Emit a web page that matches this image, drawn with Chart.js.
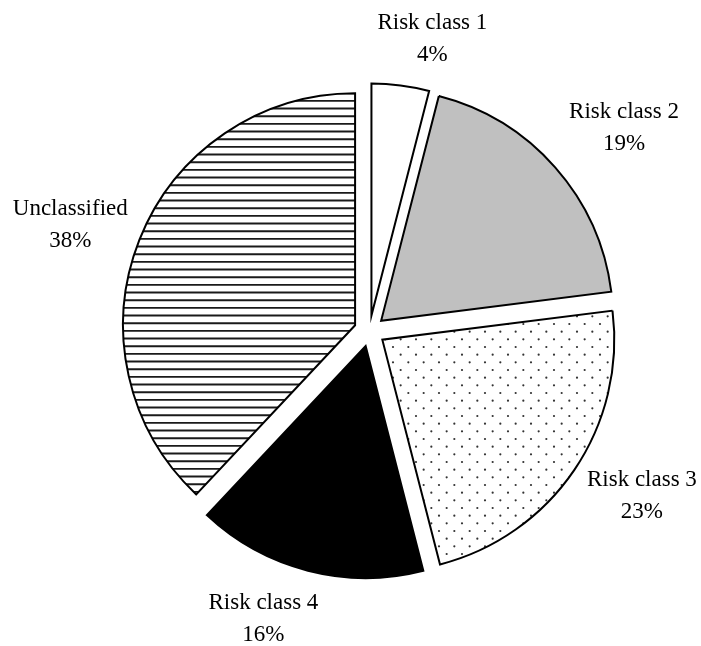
<!DOCTYPE html>
<html>
<head>
<meta charset="utf-8">
<script src="https://cdn.jsdelivr.net/npm/chart.js@4.4.1/dist/chart.umd.min.js"></script>
<style>
  html, body { margin: 0; padding: 0; background: #fff; }
  #wrap { width: 701px; height: 646px; position: relative; }
</style>
</head>
<body>
<div id="wrap"><canvas id="riskPie"></canvas></div>
<script>
// Risk class shares (%)
const categories = ['Risk class 1', 'Risk class 2', 'Risk class 3', 'Risk class 4', 'Unclassified'];
const shares = [4, 19, 23, 16, 38];

// Label nudges (px) from the point 310px out along each slice's middle
const labelNudge = [[24, 6], [22, -8], [16, -19], [-29, -22], [-11, -2]];
const explode = 15.5;
const labelFont = '23px "Liberation Serif", "Times New Roman", serif';

// Fill patterns
function makeTile(draw) {
    const c = document.createElement('canvas');
    c.width = 46; c.height = 46;
    const g = c.getContext('2d');
    draw(g);
    return g.createPattern(c, 'repeat');
}

const dotPattern = makeTile(g => {
    g.fillStyle = '#fff';
    g.fillRect(0, 0, 46, 46);
    g.fillStyle = '#333';
    const p = 46 / 3;
    for (let i = 0; i < 3; i++) {
        for (let j = 0; j < 3; j++) {
            g.beginPath();
            g.arc(i * p + 2, j * p + 2, 1.1, 0, Math.PI * 2);
            g.arc(i * p + p / 2 + 2, j * p + p / 2 + 2, 1.1, 0, Math.PI * 2);
            g.fill();
        }
    }
});

const stripePattern = makeTile(g => {
    g.fillStyle = '#fff';
    g.fillRect(0, 0, 46, 46);
    g.strokeStyle = '#1a1a1a';
    g.lineWidth = 1.9;
    for (let k = 0; k < 6; k++) {
        const y = k * 46 / 6 + 1.2;
        g.beginPath();
        g.moveTo(0, y);
        g.lineTo(46, y);
        g.stroke();
    }
});

const fills = ['#ffffff', '#c0c0c0', dotPattern, '#000000', stripePattern];

// Pull every slice out from the centre along its middle angle
const explodePlugin = {
    id: 'explode',
    afterDatasetsUpdate(chart) {
        chart.getDatasetMeta(0).data.forEach(arc => {
            const mid = (arc.startAngle + arc.endAngle) / 2;
            arc.x += Math.cos(mid) * explode;
            arc.y += Math.sin(mid) * explode;
        });
    }
};

// Two-line labels: name and percentage
const labelPlugin = {
    id: 'pieLabels',
    afterDatasetsDraw(chart) {
        const ctx = chart.ctx;
        const area = chart.chartArea;
        const cx = (area.left + area.right) / 2;
        const cy = (area.top + area.bottom) / 2;
        ctx.save();
        ctx.font = labelFont;
        ctx.fillStyle = '#000';
        ctx.textAlign = 'center';
        ctx.textBaseline = 'alphabetic';
        chart.getDatasetMeta(0).data.forEach((arc, i) => {
            const mid = (arc.startAngle + arc.endAngle) / 2;
            const x = cx + Math.cos(mid) * 310 + labelNudge[i][0];
            const y = cy + Math.sin(mid) * 310 + labelNudge[i][1];
            ctx.fillText(categories[i], x, y);
            ctx.fillText(shares[i] + '%', x, y + 32);
        });
        ctx.restore();
    }
};

new Chart(document.getElementById('riskPie'), {
    type: 'pie',
    data: {
        labels: categories,
        datasets: [{
            data: shares,
            backgroundColor: fills,
            borderColor: '#000',
            borderWidth: 2,
            hoverBorderWidth: 2,
            borderJoinStyle: 'miter'
        }]
    },
    options: {
        responsive: true,
        maintainAspectRatio: false,
        animation: false,
        events: [],
        layout: { padding: { left: 136.5, right: 98.5, top: 98, bottom: 82 } },
        plugins: {
            legend: { display: false },
            tooltip: { enabled: false }
        }
    },
    plugins: [explodePlugin, labelPlugin]
});
</script>
</body>
</html>
